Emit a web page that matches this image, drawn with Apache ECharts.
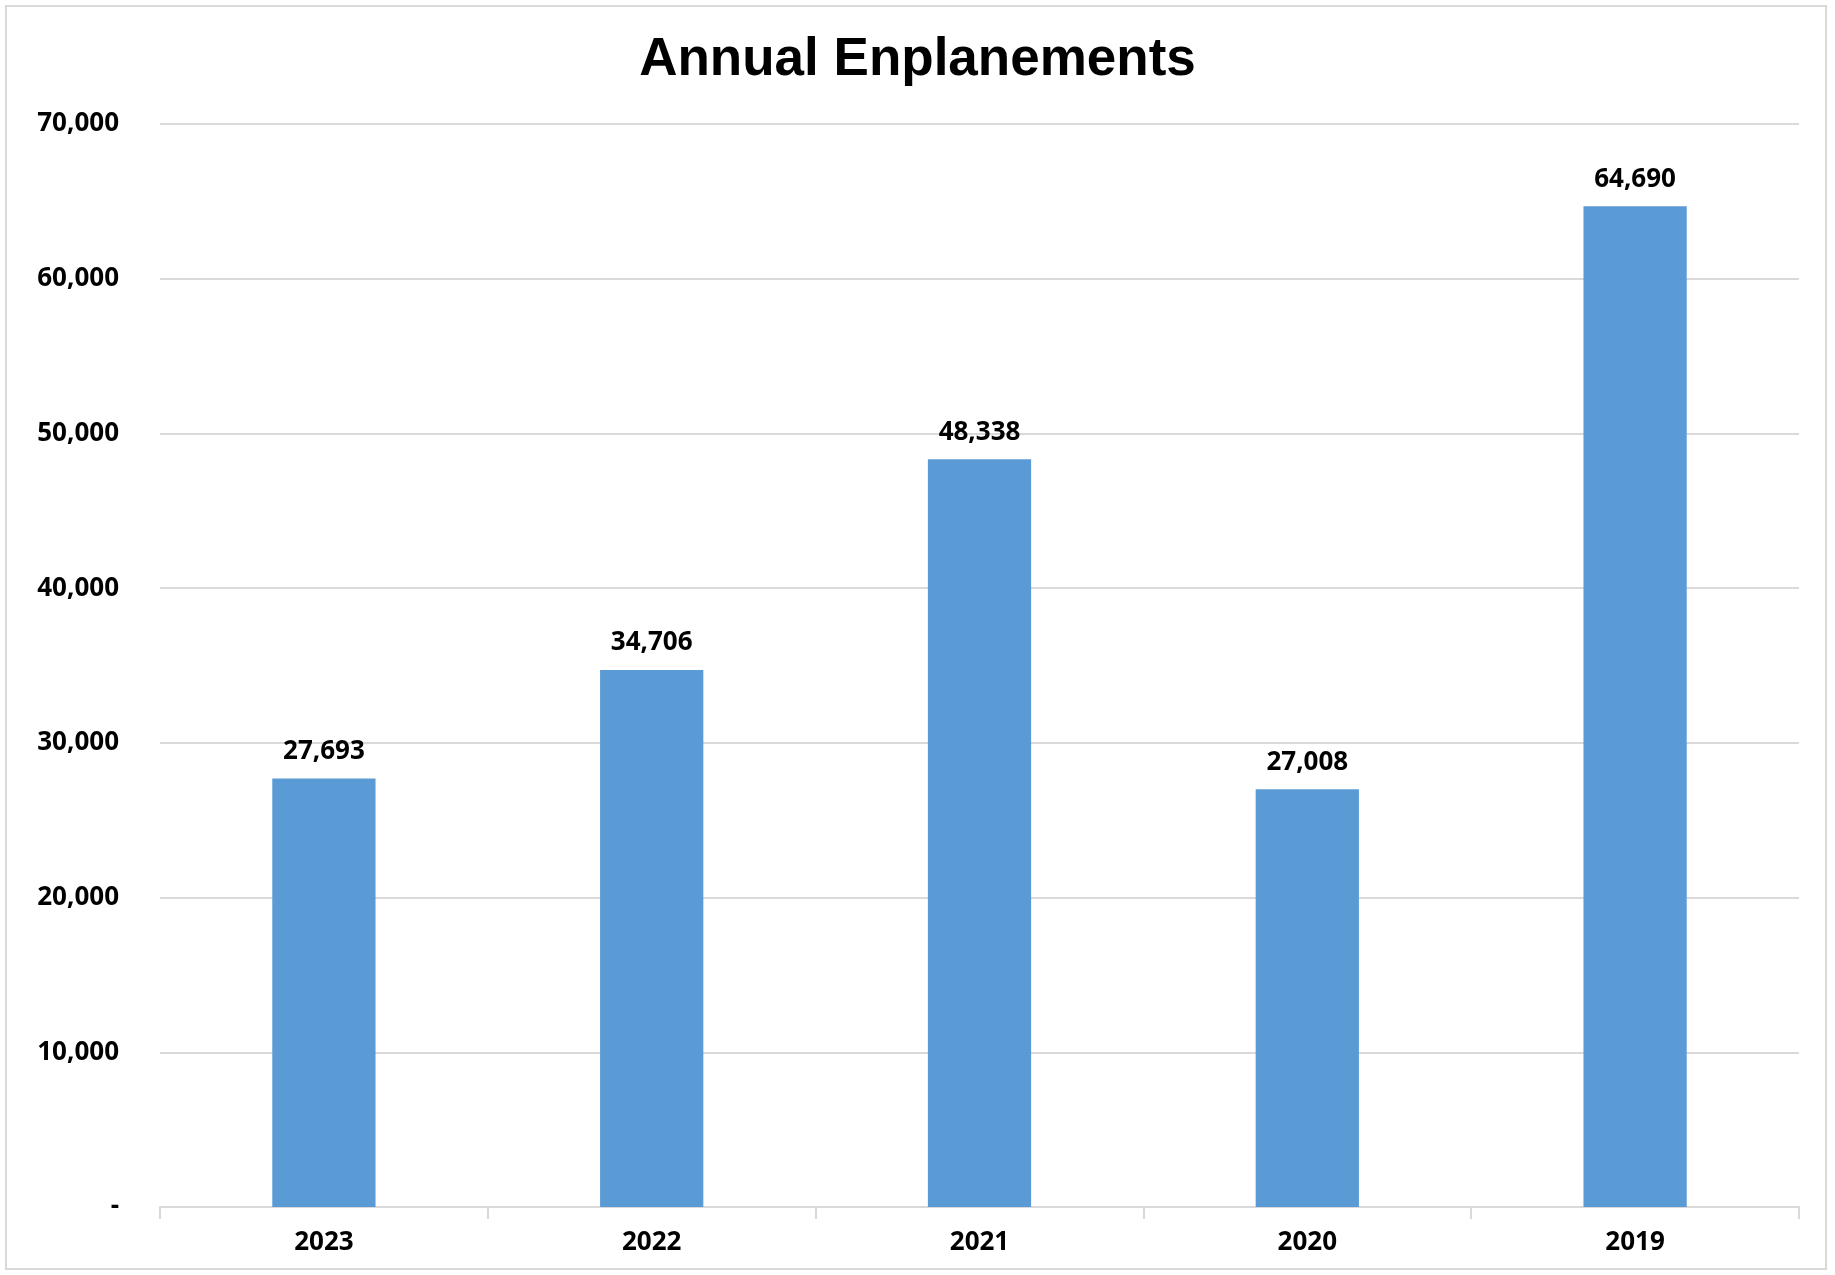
<!DOCTYPE html>
<html>
<head>
<meta charset="utf-8">
<script src="https://cdn.jsdelivr.net/npm/echarts@6/dist/echarts.min.js"></script>
<style>
  html, body { margin: 0; padding: 0; background: #fff; }
  #main { width: 1835px; height: 1275px; }
</style>
</head>
<body>
<div id="main"></div>
<script>
// data
var years = ['2023', '2022', '2021', '2020', '2019'];
var enplanements = [27693, 34706, 48338, 27008, 64690];

var labelFont = '"Open Sans", "Noto Sans", sans-serif';

function fmt(v) {
  if (v === 0) return '-';
  return v.toLocaleString('en-US');
}

var chart = echarts.init(document.getElementById('main'));
chart.setOption({
  animation: false,
  backgroundColor: '#fff',
  title: {
    text: 'Annual Enplanements',
    left: 'center',
    top: 29,
    textStyle: {
      fontFamily: '"Liberation Sans", Arial, sans-serif',
      fontWeight: 'bold',
      fontSize: 53,
      color: '#000'
    }
  },
  // outer frame
  graphic: [{
    type: 'rect',
    shape: { x: 6, y: 6, width: 1820, height: 1263 },
    style: { fill: 'none', stroke: '#d9d9d9', lineWidth: 2 },
    silent: true
  }],
  grid: {
    left: 160,
    right: 36,
    top: 124,
    bottom: 68
  },
  xAxis: {
    type: 'category',
    data: years,
    axisLine: { lineStyle: { color: '#d9d9d9', width: 2 } },
    axisTick: { show: true, length: 12, lineStyle: { color: '#d9d9d9', width: 2 } },
    axisLabel: {
      margin: 23,
      color: '#000',
      fontFamily: labelFont,
      fontWeight: 'bold',
      fontSize: 26
    }
  },
  yAxis: {
    type: 'value',
    min: 0,
    max: 70000,
    interval: 10000,
    axisLine: { show: false },
    axisTick: { show: false },
    splitLine: { lineStyle: { color: '#d9d9d9', width: 2 } },
    axisLabel: {
      margin: 41,
      color: '#000',
      fontFamily: labelFont,
      fontWeight: 'bold',
      fontSize: 26,
      formatter: fmt
    }
  },
  series: [{
    type: 'bar',
    data: enplanements,
    barWidth: '31.5%',
    itemStyle: { color: '#5b9bd5' },
    label: {
      show: true,
      position: 'top',
      distance: 14,
      color: '#000',
      fontFamily: labelFont,
      fontWeight: 'bold',
      fontSize: 26,
      formatter: function (p) { return fmt(p.value); }
    }
  }]
});
</script>
</body>
</html>
